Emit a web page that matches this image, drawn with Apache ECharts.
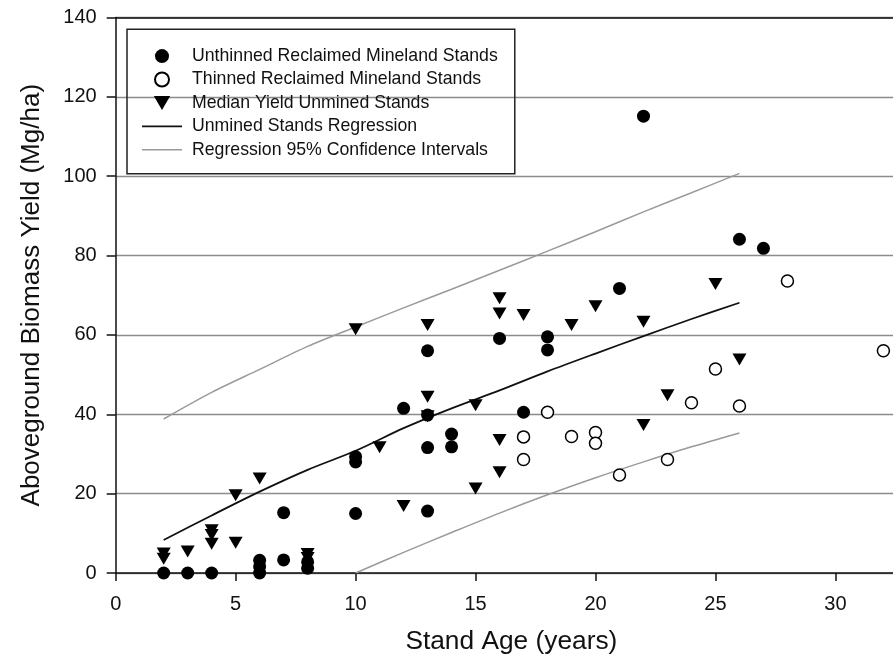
<!DOCTYPE html>
<html>
<head>
<meta charset="utf-8">
<script src="https://cdn.jsdelivr.net/npm/echarts@6/dist/echarts.min.js"></script>
<style>
html,body{margin:0;padding:0;background:#fff;}
#chart{width:893px;height:668px;}
</style>
</head>
<body>
<div id="chart"></div>
<script>
// ---- data ----
const xTicks = [0, 5, 10, 15, 20, 25, 30];
const yTicks = [0, 20, 40, 60, 80, 100, 120, 140];

const unthinnedX = [2, 3, 4, 6, 6, 6, 7, 7, 8, 8, 10, 10, 10, 12, 13, 13, 13, 13, 14, 14, 16, 17, 18, 18, 21, 22, 26, 27];
const unthinnedY = [0, 0, 0, 3.2, 1.6, 0, 15.2, 3.3, 2.8, 1.2, 29.3, 28.0, 15.0, 41.5, 56.0, 39.8, 31.6, 15.6, 35.0, 31.8, 59.1, 40.5, 59.5, 56.2, 71.7, 115.1, 84.1, 81.8];

const thinnedX = [17, 17, 18, 19, 20, 20, 21, 23, 24, 25, 26, 28, 32];
const thinnedY = [34.3, 28.6, 40.5, 34.4, 35.4, 32.7, 24.7, 28.6, 42.9, 51.4, 42.1, 73.6, 56.0];

const medianX = [2, 2, 3, 4, 4, 4, 5, 5, 6, 8, 8, 10, 11, 12, 13, 13, 13, 15, 15, 16, 16, 16, 16, 17, 19, 20, 22, 22, 23, 25, 26];
const medianY = [4.9, 3.6, 5.4, 10.8, 9.6, 7.4, 7.6, 19.6, 23.8, 4.8, 3.8, 61.4, 31.7, 16.9, 62.5, 44.4, 39.5, 42.3, 21.3, 69.2, 65.4, 33.5, 25.4, 65.0, 62.5, 67.2, 63.3, 37.3, 44.8, 72.8, 53.8];

const regX = [2, 4, 6, 8, 10, 12, 14, 16, 18, 20, 22, 24, 26];
const regY = [8.3, 14.5, 20.5, 26.0, 30.8, 36.5, 41.5, 46.0, 50.8, 55.3, 59.7, 64.0, 68.1];
const upperY = [38.8, 45.5, 51.3, 57.1, 62.0, 66.8, 71.5, 76.3, 81.1, 86.0, 91.0, 95.8, 100.7];
const lowerX = [10, 12, 14, 16, 18, 20, 22, 24, 26];
const lowerY = [0, 5.2, 10.2, 15.1, 19.7, 24.0, 28.0, 31.8, 35.3];

const names = [
  'Unthinned Reclaimed Mineland Stands',
  'Thinned Reclaimed Mineland Stands',
  'Median Yield Unmined Stands',
  'Unmined Stands Regression',
  'Regression 95% Confidence Intervals'
];

const zip = (xs, ys) => xs.map((x, i) => [x, ys[i]]);
const FONT = '"Liberation Sans", Arial, sans-serif';
const triDown = 'path://M0,0L14,0L7,12Z';

const chart = echarts.init(document.getElementById('chart'), null, {renderer: 'canvas'});
chart.setOption({
  animation: false,
  backgroundColor: '#fff',
  textStyle: {fontFamily: FONT},
  grid: {left: 115.7, right: 0, top: 17.4, bottom: 95},
  legend: {
    orient: 'vertical',
    left: 127, top: 29.3,
    padding: [17.8, 17, 15.0, 15],
    borderColor: '#222', borderWidth: 1.5,
    itemWidth: 40, itemHeight: 14, itemGap: 5.4,
    symbolKeepAspect: true,
    textStyle: {fontFamily: FONT, fontSize: 17.7, color: '#111', padding: [0, 0, 0, 5]},
    data: [
      {name: names[0]},
      {name: names[1]},
      {name: names[2]},
      {name: names[3], icon: 'path://M0,0L40,0L40,1.8L0,1.8Z'},
      {name: names[4], icon: 'path://M0,0L40,0L40,1.4L0,1.4Z'}
    ],
    selectedMode: false
  },
  xAxis: [{
    type: 'value', min: 0, max: 32.4, interval: 5,
    name: 'Stand Age (years)', nameLocation: 'middle', nameGap: 56,
    nameTextStyle: {fontFamily: FONT, fontSize: 26.3, color: '#111', padding: [0, 0, 0, 14]},
    axisLine: {show: true, onZero: false, lineStyle: {color: '#111', width: 1.5}},
    axisTick: {show: true, length: 8, inside: false, customValues: xTicks, lineStyle: {color: '#111', width: 1.5}},
    axisLabel: {fontFamily: FONT, fontSize: 20, color: '#111', margin: 21, customValues: xTicks},
    splitLine: {show: false}
  }, {
    type: 'value', min: 0, max: 32.4, position: 'top',
    axisLine: {show: true, onZero: false, lineStyle: {color: '#111', width: 1.5}},
    axisTick: {show: false}, axisLabel: {show: false}, splitLine: {show: false}
  }],
  yAxis: {
    type: 'value', min: 0, max: 140, interval: 20,
    name: 'Aboveground Biomass Yield (Mg/ha)', nameLocation: 'middle', nameGap: 71,
    nameTextStyle: {fontFamily: FONT, fontSize: 26, color: '#111'},
    axisLine: {show: true, onZero: false, lineStyle: {color: '#111', width: 1.5}},
    axisTick: {show: true, length: 9, inside: false, lineStyle: {color: '#111', width: 1.5}},
    axisLabel: {fontFamily: FONT, fontSize: 20, color: '#111', margin: 19},
    splitLine: {show: true, lineStyle: {color: '#8c8c8c', width: 1.4}}
  },
  series: [
    {
      name: names[3], type: 'line', data: zip(regX, regY), showSymbol: false, symbol: 'none', smooth: 0.3,
      lineStyle: {color: '#111', width: 1.8}, itemStyle: {color: '#111'}, z: 2
    },
    {
      name: names[4], type: 'line', data: zip(regX, upperY), showSymbol: false, symbol: 'none', smooth: 0.3,
      lineStyle: {color: '#9a9a9a', width: 1.5}, itemStyle: {color: '#9a9a9a'}, z: 2
    },
    {
      name: names[4], type: 'line', data: zip(lowerX, lowerY), showSymbol: false, symbol: 'none', smooth: 0.3,
      lineStyle: {color: '#9a9a9a', width: 1.5}, itemStyle: {color: '#9a9a9a'}, z: 2
    },
    {
      name: names[0], type: 'scatter', data: zip(unthinnedX, unthinnedY), symbol: 'circle', symbolSize: 13,
      itemStyle: {color: '#000', opacity: 1}, z: 4
    },
    {
      name: names[1], type: 'scatter', data: zip(thinnedX, thinnedY), symbol: 'circle', symbolSize: 12,
      itemStyle: {color: '#fff', borderColor: '#000', borderWidth: 1.5, opacity: 1}, z: 4
    },
    {
      name: names[2], type: 'scatter', data: zip(medianX, medianY), symbol: triDown, symbolSize: [14, 12],
      itemStyle: {color: '#000', opacity: 1}, z: 4
    }
  ]
});
</script>
</body>
</html>
